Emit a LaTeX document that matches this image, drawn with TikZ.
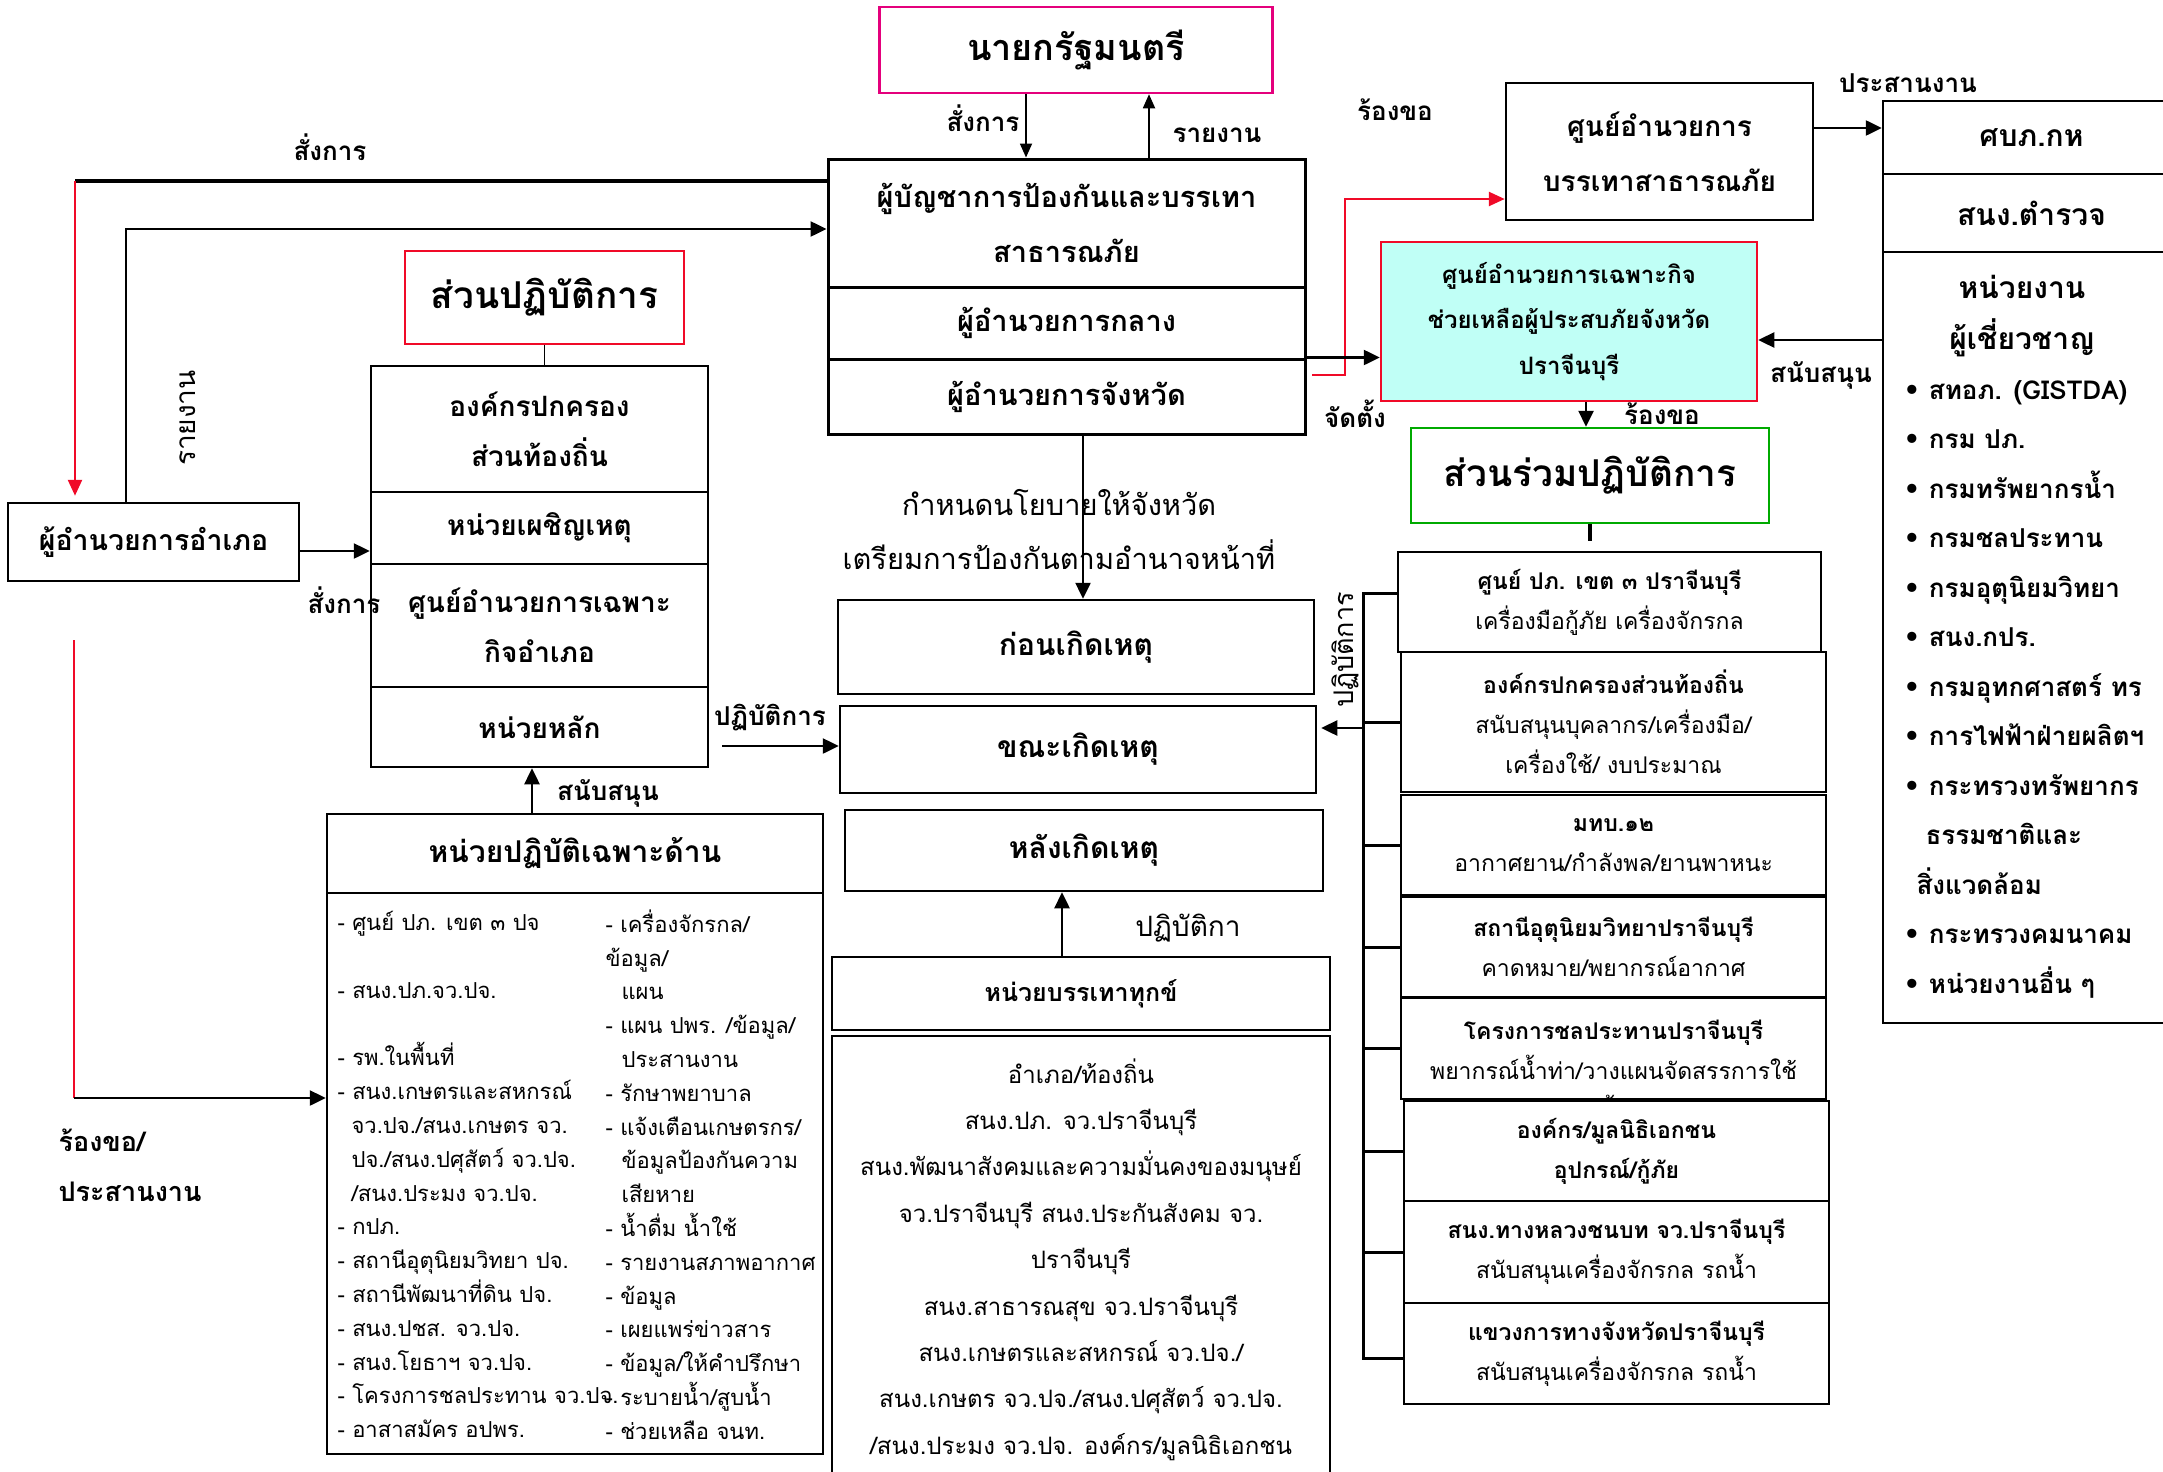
\documentclass[tikz,border=0pt]{standalone}
\usepackage{fontspec}
\setmainfont[Script=Thai]{Loma}
\newfontfamily\symfont{DejaVu Sans}
\usetikzlibrary{arrows.meta,positioning,calc}

\definecolor{pmmagenta}{RGB}{228,0,124}
\definecolor{boxred}{RGB}{240,10,40}
\definecolor{boxgreen}{RGB}{0,170,0}
\definecolor{cyanfill}{RGB}{192,255,246}

\newcommand{\fs}[2]{\fontsize{#1}{#2}\selectfont}
\newcommand{\bul}{{\symfont •}\ }

\begin{document}
\begin{tikzpicture}[x=1pt, y=-1pt,
    box/.style={draw, line width=2.5pt, inner sep=0pt, align=center, fill=white},
    rbox/.style={box, minimum width=425pt, font=\fs{23}{40}},
    lbl/.style={font=\bfseries\fs{26}{30}},
    arr/.style={-{Triangle[length=16pt,width=15pt]}, line width=2.5pt},
    thinarr/.style={-{Triangle[length=14pt,width=12pt]}, line width=1.8pt},
    redline/.style={draw=boxred, line width=2.5pt},
    redarr/.style={redline, -{Triangle[length=16pt,width=14pt]}},
]
\useasboundingbox (0,0) rectangle (2163,1472);

% top of the chain
\node[box, draw=pmmagenta, minimum width=393pt, minimum height=86pt, font=\bfseries\fs{36}{40}] (pm) at (1076,50) {นายกรัฐมนตรี};

\node[box, line width=3pt, minimum width=477pt, minimum height=128pt, font=\bfseries\fs{29}{55}] (cmdA) at (1066.5,223) {ผู้บัญชาการป้องกันและบรรเทา\\สาธารณภัย};
\node[box, line width=3pt, minimum width=477pt, minimum height=72pt, font=\bfseries\fs{29}{30}] (cmdB) at (1066.5,323) {ผู้อำนวยการกลาง};
\node[box, line width=3pt, minimum width=477pt, minimum height=75pt, font=\bfseries\fs{29}{30}] (cmdC) at (1066.5,396.5) {ผู้อำนวยการจังหวัด};

\node[lbl] (lcmd1) at (983,118) {สั่งการ};
\node[lbl] (lrep1) at (1217,135) {รายงาน};

% district side
\node[box, minimum width=291pt, minimum height=78pt, font=\bfseries\fs{28.5}{30}] (amph) at (153.5,542) {ผู้อำนวยการอำเภอ};
\node[lbl] (lcmd2) at (330,147) {สั่งการ};
\node[font=\fs{28}{30}, rotate=90] (lrep2) at (188,418) {รายงาน};

\node[box, draw=boxred, minimum width=279pt, minimum height=93pt, font=\bfseries\fs{37}{40}] (opsec) at (544.5,297.5) {ส่วนปฏิบัติการ};

\node[box, minimum width=337pt, minimum height=126pt, font=\bfseries\fs{28}{50}] (lsA) at (539.5,429) {องค์กรปกครอง\\ส่วนท้องถิ่น};
\node[box, minimum width=337pt, minimum height=72pt, font=\bfseries\fs{28}{30}] (lsB) at (539.5,528) {หน่วยเผชิญเหตุ};
\node[box, minimum width=337pt, minimum height=123pt, font=\bfseries\fs{28}{50}] (lsC) at (539.5,625.5) {ศูนย์อำนวยการเฉพาะ\\กิจอำเภอ};
\node[box, minimum width=337pt, minimum height=80pt, font=\bfseries\fs{28}{30}] (lsD) at (539.5,727) {หน่วยหลัก};

\node[lbl] (lcmd3) at (344,600) {สั่งการ};
\node[lbl, anchor=west, align=left, font=\bfseries\fs{27}{50}] (lreq1) at (55,1165) {ร้องขอ/\\ประสานงาน};

% special units
\node[box, minimum width=496pt, minimum height=79pt, font=\bfseries\fs{30}{34}] (sphead) at (575,853.5) {หน่วยปฏิบัติเฉพาะด้าน};
\node[box, minimum width=496pt, minimum height=561pt] (splist) at (575,1173.5) {};
\node[anchor=west, align=left, font=\fs{22}{33.8}] (spleft) at (334,1174.5) {- ศูนย์ ปภ. เขต ๓ ปจ\\
\mbox{}\\
- สนง.ปภ.จว.ปจ.\\
\mbox{}\\
- รพ.ในพื้นที่\\
- สนง.เกษตรและสหกรณ์\\
\hspace*{14pt}จว.ปจ./สนง.เกษตร จว.\\
\hspace*{14pt}ปจ./สนง.ปศุสัตว์ จว.ปจ.\\
\hspace*{14pt}/สนง.ประมง จว.ปจ.\\
- กปภ.\\
- สถานีอุตุนิยมวิทยา ปจ.\\
- สถานีพัฒนาที่ดิน ปจ.\\
- สนง.ปชส. จว.ปจ.\\
- สนง.โยธาฯ จว.ปจ.\\
- โครงการชลประทาน จว.ปจ.\\
- อาสาสมัคร อปพร.};
\node[anchor=west, align=left, font=\fs{22}{33.8}] (spright) at (602,1174.5) {- เครื่องจักรกล/\\
ข้อมูล/\\
\hspace*{16pt}แผน\\
- แผน ปพร. /ข้อมูล/\\
\hspace*{16pt}ประสานงาน\\
- รักษาพยาบาล\\
- แจ้งเตือนเกษตรกร/\\
\hspace*{16pt}ข้อมูลป้องกันความ\\
\hspace*{16pt}เสียหาย\\
- น้ำดื่ม น้ำใช้\\
- รายงานสภาพอากาศ\\
- ข้อมูล\\
- เผยแพร่ข่าวสาร\\
- ข้อมูล/ให้คำปรึกษา\\
- ระบายน้ำ/สูบน้ำ\\
- ช่วยเหลือ จนท.};
\node[lbl] (lsup1) at (608,793) {สนับสนุน};

% phases
\node[font=\fs{29}{54}, align=center] (lpol) at (1059,530) {กำหนดนโยบายให้จังหวัด\\เตรียมการป้องกันตามอำนาจหน้าที่};
\node[box, minimum width=476pt, minimum height=94pt, font=\bfseries\fs{30}{32}] (before) at (1076,647) {ก่อนเกิดเหตุ};
\node[box, minimum width=476pt, minimum height=87pt, font=\bfseries\fs{30}{32}] (during) at (1078,749.5) {ขณะเกิดเหตุ};
\node[box, minimum width=478pt, minimum height=81pt, font=\bfseries\fs{30}{32}] (after) at (1084,850.5) {หลังเกิดเหตุ};
\node[lbl] (lops1) at (770,718) {ปฏิบัติการ};

\node[box, minimum width=498pt, minimum height=73pt, font=\bfseries\fs{25}{30}] (relhead) at (1081,993.5) {หน่วยบรรเทาทุกข์};
\node[box, minimum width=498pt, minimum height=454pt] (rellist) at (1081,1263) {};
\node[font=\fs{24}{46.4}, align=center] (reltext) at (1081,1259.5) {อำเภอ/ท้องถิ่น\\
สนง.ปภ. จว.ปราจีนบุรี\\
สนง.พัฒนาสังคมและความมั่นคงของมนุษย์\\
จว.ปราจีนบุรี สนง.ประกันสังคม จว.\\
ปราจีนบุรี\\
สนง.สาธารณสุข จว.ปราจีนบุรี\\
สนง.เกษตรและสหกรณ์ จว.ปจ./\\
สนง.เกษตร จว.ปจ./สนง.ปศุสัตว์ จว.ปจ.\\
/สนง.ประมง จว.ปจ. องค์กร/มูลนิธิเอกชน};
\node[font=\fs{28}{30}] (lops2) at (1188,928) {ปฏิบัติกา};

% province centres
\node[lbl] (lreq2) at (1395,110) {ร้องขอ};
\node[box, minimum width=307pt, minimum height=137pt, font=\bfseries\fs{28}{55}] (dpm) at (1659.5,151.5) {ศูนย์อำนวยการ\\บรรเทาสาธารณภัย};
\node[box, draw=boxred, fill=cyanfill, minimum width=376pt, minimum height=159pt, font=\bfseries\fs{24}{45.5}] (fwd) at (1569,321.5) {ศูนย์อำนวยการเฉพาะกิจ\\ช่วยเหลือผู้ประสบภัยจังหวัด\\ปราจีนบุรี};
\node[lbl] (lset) at (1355,414) {จัดตั้ง};
\node[lbl] (lreq3) at (1662,414) {ร้องขอ};
\node[box, draw=boxgreen, minimum width=358pt, minimum height=95pt, font=\bfseries\fs{37}{40}] (joint) at (1590,475.5) {ส่วนร่วมปฏิบัติการ};

% expert agencies
\node[box, minimum width=297pt, minimum height=73pt, font=\bfseries\fs{30}{32}] (ex1) at (2031.5,137.5) {ศบภ.กห};
\node[box, minimum width=297pt, minimum height=78pt, font=\bfseries\fs{30}{32}] (ex2) at (2031.5,213) {สนง.ตำรวจ};
\node[box, minimum width=297pt, minimum height=771pt] (ex3) at (2031.5,637.5) {};
\node[font=\bfseries\fs{30}{51}, align=center] (exhead) at (2022,316.5) {หน่วยงาน\\ผู้เชี่ยวชาญ};
\node[anchor=west, align=left, font=\bfseries\fs{26}{49.5}] (exlist) at (1900,689) {\bul สทอภ. (GISTDA)\\
\bul กรม ปภ.\\
\bul กรมทรัพยากรน้ำ\\
\bul กรมชลประทาน\\
\bul กรมอุตุนิยมวิทยา\\
\bul สนง.กปร.\\
\bul กรมอุทกศาสตร์ ทร\\
\bul การไฟฟ้าฝ่ายผลิตฯ\\
\bul กระทรวงทรัพยากร\\
\hspace*{22pt}ธรรมชาติและ\\
\hspace*{13pt}สิ่งแวดล้อม\\
\bul กระทรวงคมนาคม\\
\bul หน่วยงานอื่น ๆ};
\node[lbl] (lcoord) at (1908,83) {ประสานงาน};
\node[lbl] (lsup2) at (1821,375) {สนับสนุน};

% joint operation units
\node[rbox, minimum width=423pt, minimum height=100pt] (rb1) at (1609.5,602) {\textbf{ศูนย์ ปภ. เขต ๓ ปราจีนบุรี}\\เครื่องมือกู้ภัย เครื่องจักรกล};
\node[rbox, minimum height=140pt] (rb2) at (1613.5,722) {\textbf{องค์กรปกครองส่วนท้องถิ่น}\\สนับสนุนบุคลากร/เครื่องมือ/\\เครื่องใช้/ งบประมาณ};
\node[rbox, minimum height=100pt] (rb3) at (1613.5,845) {\textbf{มทบ.๑๒}\\อากาศยาน/กำลังพล/ยานพาหนะ};
\node[rbox, minimum height=100pt] (rb4) at (1613.5,947) {\textbf{สถานีอุตุนิยมวิทยาปราจีนบุรี}\\คาดหมาย/พยากรณ์อากาศ};
\node[rbox, minimum height=101pt] (rb5) at (1613.5,1048.5) {};
\node[font=\fs{23}{40}, align=center] (rb5t) at (1613.5,1070) {\textbf{โครงการชลประทานปราจีนบุรี}\\พยากรณ์น้ำท่า/วางแผนจัดสรรการใช้\\น้ำ};
\node[rbox, minimum height=100pt] (rb6) at (1616.5,1151) {\textbf{องค์กร/มูลนิธิเอกชน}\\\textbf{อุปกรณ์/กู้ภัย}};
\node[rbox, minimum height=102pt] (rb7) at (1616.5,1252) {\textbf{สนง.ทางหลวงชนบท จว.ปราจีนบุรี}\\สนับสนุนเครื่องจักรกล รถน้ำ};
\node[rbox, minimum height=101pt] (rb8) at (1616.5,1353.5) {\textbf{แขวงการทางจังหวัดปราจีนบุรี}\\สนับสนุนเครื่องจักรกล รถน้ำ};
\node[font=\fs{27}{30}, rotate=90] (lops3) at (1345,650) {ปฏิบัติการ};

% connectors
\coordinate (pmL) at ([xshift=-50pt]pm.south);
\coordinate (pmR) at ([xshift=73pt]pm.south);
\draw[thinarr] (pmL) -- (pmL |- cmdA.north);
\draw[thinarr] (pmR |- cmdA.north) -- (pmR);

\coordinate (topL) at (75,181);
\draw[line width=3.5pt] (topL) -- (topL -| cmdA.west);
\draw[redarr, shorten >=6pt] (topL) -- (topL |- amph.north);
\coordinate (repB) at ([xshift=-27.5pt]amph.north);
\draw[arr] (repB) |- ([yshift=-6pt]cmdA.west);

\draw[line width=1.8pt] (opsec.south) -- (opsec.south |- lsA.north);
\coordinate (amphE) at ([yshift=-9pt]amph.east);
\draw[arr] (amphE) -- (amphE -| lsB.west);

\coordinate (reqT) at (74,640);
\coordinate (reqB) at (74,1098);
\draw[redline] (reqT) -- (reqB);
\draw[arr] (reqB) -- (reqB -| splist.west);

\coordinate (supB) at ([xshift=-43pt]sphead.north);
\draw[arr] (supB) -- (supB |- lsD.south);
\coordinate (opsA) at (722,746);
\draw[arr] (opsA) -- (opsA -| during.west);

\coordinate (polT) at ([xshift=16.5pt]cmdC.south);
\draw[arr] (polT) -- (polT |- before.north);
\coordinate (relT) at ([xshift=-19pt]relhead.north);
\draw[arr] (relT) -- (relT |- after.south);

\coordinate (redS) at (1312,375);
\draw[redarr] (redS) -- ++(33,0) |- ([yshift=-47.5pt]dpm.west);
\draw[arr] (cmdC.north east) -- (cmdC.north east -| fwd.west);
\coordinate (fwdB) at ([xshift=17pt]fwd.south);
\draw[arr] (fwdB) -- (fwdB |- joint.north);
\draw[line width=3.5pt, shorten >=10pt] (joint.south) -- (joint.south |- rb1.north);

\coordinate (dpmE) at ([yshift=23.5pt]dpm.east);
\draw[arr] (dpmE) -- (dpmE -| ex1.west);
\coordinate (exS) at (1883,340);
\draw[arr] (exS) -- (exS -| fwd.east);

\coordinate (brT) at (1363,593);
\coordinate (brB) at (1363,1358);
\draw[line width=3pt] (brT -| rb1.west) -- (brT) -- (brB) -- (brB -| rb8.west);
\foreach \n in {2,...,7}
    \draw[line width=3pt] (rb\n.west) -- (rb\n.west -| brT);
\coordinate (brA) at (1363,728);
\draw[arr, shorten >=4pt] (brA) -- (brA -| during.east);
\end{tikzpicture}
\end{document}
